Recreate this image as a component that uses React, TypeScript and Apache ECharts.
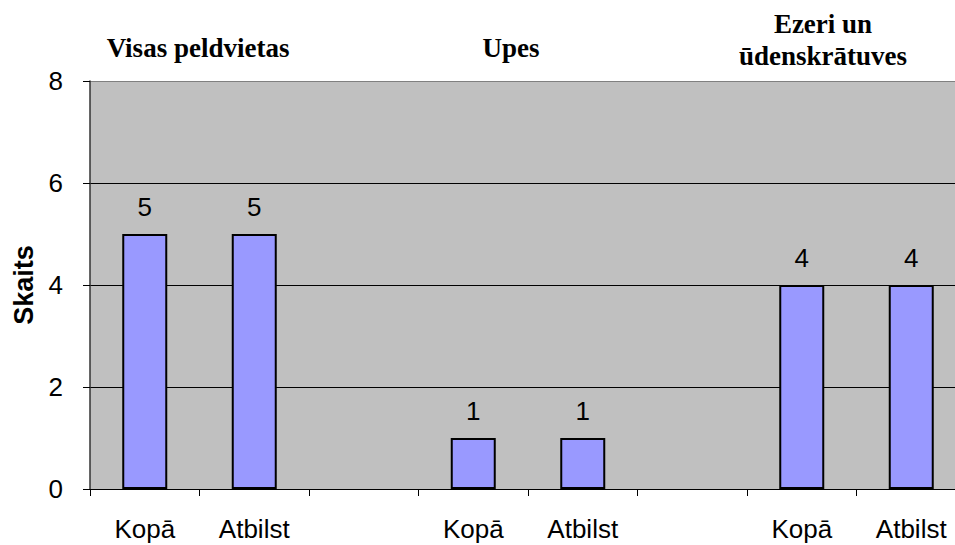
import React, { useEffect, useRef } from "react";
import * as echarts from "echarts";

const categories = ["Kopā", "Atbilst", "", "Kopā", "Atbilst", "", "Kopā", "Atbilst"];
const values = [5, 5, null, 1, 1, null, 4, 4];
const groupTitles = ["Visas peldvietas", "Upes", "Ezeri un\nūdenskrātuves"];
const yTicks = { min: 0, max: 8, interval: 2 };

const SANS = "Arial, 'Liberation Sans', sans-serif";
const SERIF_BOLD = "bold 27px 'Liberation Serif', 'Times New Roman', serif";

export default function App() {
  const ref = useRef<HTMLDivElement>(null);
  useEffect(() => {
    if (!ref.current) return;
    const chart = echarts.init(ref.current, null, { renderer: "svg" });
    chart.setOption({
      animation: false,
      backgroundColor: "#ffffff",
      grid: {
        left: 90,
        right: -11,
        top: 81,
        bottom: 56,
        outerBoundsMode: "none",
        containLabel: false,
        show: true,
        backgroundColor: "#C0C0C0",
        borderWidth: 0,
      },
      graphic: [
        {
          type: "text",
          x: 198,
          y: 48,
          style: {
            text: groupTitles[0],
            textAlign: "center",
            textVerticalAlign: "middle",
            font: SERIF_BOLD,
            fill: "#000",
          },
        },
        {
          type: "text",
          x: 511,
          y: 48,
          style: {
            text: groupTitles[1],
            textAlign: "center",
            textVerticalAlign: "middle",
            font: SERIF_BOLD,
            fill: "#000",
          },
        },
        {
          type: "text",
          x: 823,
          y: 40,
          style: {
            text: groupTitles[2],
            textAlign: "center",
            textVerticalAlign: "middle",
            lineHeight: 32,
            font: SERIF_BOLD,
            fill: "#000",
          },
        },
      ],
      xAxis: {
        type: "category",
        data: categories,
        boundaryGap: true,
        axisLine: { show: true, lineStyle: { color: "#000", width: 1 } },
        axisTick: { show: true, length: 7, inside: false, alignWithLabel: false, lineStyle: { color: "#000" } },
        axisLabel: {
          interval: 0,
          margin: 27,
          fontFamily: SANS,
          fontSize: 26,
          color: "#000",
        },
        splitLine: { show: false },
      },
      yAxis: {
        type: "value",
        min: yTicks.min,
        max: yTicks.max,
        interval: yTicks.interval,
        name: "Skaits",
        nameLocation: "middle",
        nameGap: 52,
        nameTextStyle: {
          fontFamily: SANS,
          fontWeight: "bold",
          fontSize: 27,
          color: "#000",
        },
        axisLine: { show: true, lineStyle: { color: "#333", width: 1.5 } },
        axisTick: { show: true, length: 7, lineStyle: { color: "#000" } },
        axisLabel: {
          margin: 27,
          fontFamily: SANS,
          fontSize: 26,
          color: "#000",
        },
        splitLine: {
          show: true,
          lineStyle: { color: ["#000", "#000", "#000", "#000", "#808080"], width: 1 },
        },
      },
      series: [
        {
          type: "bar",
          data: values,
          barWidth: 45,
          itemStyle: { color: "#9999FF", borderColor: "#000", borderWidth: 2 },
          label: {
            show: true,
            position: "top",
            distance: 14,
            fontFamily: SANS,
            fontSize: 26,
            color: "#000",
          },
        },
      ],
    });
    return () => chart.dispose();
  }, []);
  return <div ref={ref} style={{ width: 955, height: 545, position: "absolute", left: 0, top: 0 }} />;
}
